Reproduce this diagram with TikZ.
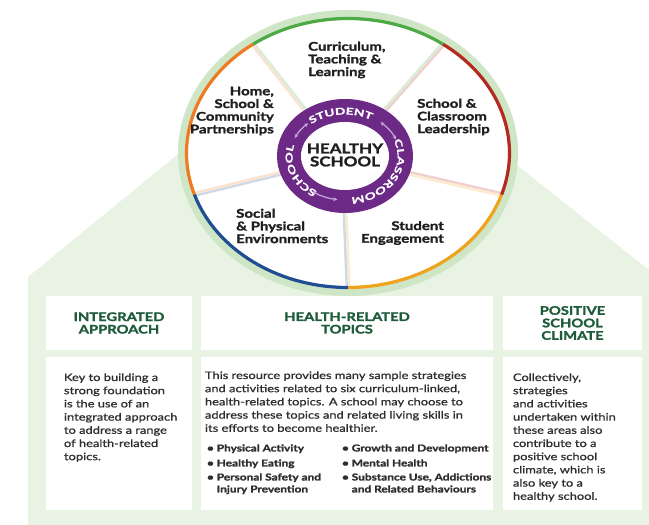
\documentclass[tikz,border=0pt]{standalone}
\usepackage{fontspec}
\setmainfont{Lato}[FakeStretch=1.25]
\newfontfamily\bodyfont{Lato}[FakeStretch=1.25, FakeBold=0.9]
\newfontfamily\heavyfont{Lato}[FakeStretch=1.25, FakeBold=1.6]
\newfontfamily\ringfont{Lato}[FakeStretch=1.45, FakeBold=1.2]
\usetikzlibrary{arrows.meta, positioning, calc, decorations.text}

\definecolor{bggreen}{HTML}{E8F3E3}
\definecolor{ringgreen}{HTML}{CFE6C6}
\definecolor{segGreen}{HTML}{4DAA45}
\definecolor{segRed}{HTML}{B32A1F}
\definecolor{segGold}{HTML}{F0A31E}
\definecolor{segBlue}{HTML}{1F4E93}
\definecolor{segOrange}{HTML}{EE7B22}
\definecolor{hsPurple}{HTML}{6C2A86}
\definecolor{arrowLilac}{HTML}{C8A6DC}
\definecolor{headGreen}{HTML}{1E5C3A}
\definecolor{bodyGray}{HTML}{2E2E2E}

\begin{document}
\begin{tikzpicture}[
  x=1pt, y=1pt,
  header/.style = {fill=white, minimum height=54pt, align=center, text=headGreen,
    font=\heavyfont\bfseries\fontsize{11.8}{12.5}\selectfont},
  panel/.style = {fill=white, minimum height=153pt},
  bodytext/.style = {anchor=north west, align=left, inner sep=0pt, text=bodyGray,
    font=\bodyfont\fontsize{10.3}{13.2}\selectfont},
  bullets/.style = {anchor=north west, align=left, inner sep=0pt, text=bodyGray,
    font=\heavyfont\bfseries\fontsize{9.5}{12}\selectfont},
  wedgelabel/.style = {inner sep=0pt, text=black!88, font=\heavyfont\bfseries\fontsize{12}{12.7}\selectfont},
  spoke/.style = {line width=2.4pt},
  ringword/.style = {decorate, decoration={text along path, text align=center}},
  loop arrow/.style = {arrowLilac, line width=1.2pt, {Stealth[length=4pt,width=4pt]}-{Stealth[length=4pt,width=4pt]}}
]
  \useasboundingbox (0,0) rectangle (649,525);

  % Background house shape
  \fill[bggreen] (28,0) -- (28,248) -- (338,502) -- (649,255) -- (649,0) -- cycle;

  % Outer wheel
  \coordinate (hub) at (348,372);
  \coordinate (core) at (345,369);
  \fill[ringgreen] (hub) ellipse [x radius=170, y radius=143];
  \fill[white] (hub) ellipse [x radius=160, y radius=133];

  % Pale spokes between the wedges
  \foreach \a/\cw/\ccw in {-90/segBlue/segGold, -18/segGold/segRed, 54/segRed/segGreen,
                           126/segGreen/segOrange, 198/segOrange/segBlue} {
    \coordinate (sIn) at ($(core)+(\a:66 and 55)$);
    \coordinate (sOut) at ($(hub)+(\a:160 and 133)$);
    \draw[spoke, \ccw!22] ($(sIn)!1.3pt!90:(sOut)$) -- ($(sOut)!1.3pt!-90:(sIn)$);
    \draw[spoke, \cw!22] ($(sIn)!1.3pt!-90:(sOut)$) -- ($(sOut)!1.3pt!90:(sIn)$);
  }

  % Coloured rim
  \foreach \a/\c in {-90/segGold, -18/segRed, 54/segGreen, 126/segOrange, 198/segBlue}
    \draw[\c, line width=3.2pt] ($(hub)+(\a:161.5 and 134.5)$)
      arc[start angle=\a, delta angle=72, x radius=161.5, y radius=134.5];

  % Purple ring
  \fill[hsPurple] (core) ellipse [x radius=68, y radius=57];
  \fill[white] (core) ellipse [x radius=44, y radius=34];
  \node[align=center, inner sep=0pt, text=black!88, font=\heavyfont\bfseries\fontsize{13.6}{13}\selectfont]
    (healthy) at ($(core)+(0,1)$) {HEALTHY\\SCHOOL};

  \path[ringword, decoration={text={|\color{white}\ringfont\bfseries\fontsize{9.4}{9}\selectfont|STUDENT}}]
    ($(core)+(132:52.5 and 41.5)$) arc[start angle=132, end angle=58, x radius=52.5, y radius=41.5];
  \path[ringword, decoration={text={|\color{white}\ringfont\bfseries\fontsize{9.4}{9}\selectfont|CLASSROOM}}]
    ($(core)+(18:52.5 and 41.5)$) arc[start angle=18, end angle=-80, x radius=52.5, y radius=41.5];
  \path[ringword, decoration={text={|\color{white}\ringfont\bfseries\fontsize{9.4}{9}\selectfont|SCHOOL}}]
    ($(core)+(242:52.5 and 41.5)$) arc[start angle=242, end angle=160, x radius=52.5, y radius=41.5];

  \draw[loop arrow] ($(core)+(156:55 and 44)$) arc[start angle=156, end angle=132, x radius=55, y radius=44];
  \draw[loop arrow] ($(core)+(50:55 and 44)$) arc[start angle=50, end angle=22, x radius=55, y radius=44];
  \draw[loop arrow] ($(core)+(-126:55 and 44)$) arc[start angle=-126, end angle=-98, x radius=55, y radius=44];

  % Wedge labels
  \node[wedgelabel, align=left, anchor=west] (curriculum) at (308,465) {Curriculum,\\Teaching \&\\Learning};
  \node[wedgelabel, align=right, anchor=east] (partners) at (274,414) {Home,\\School \&\\Community\\Partnerships};
  \node[wedgelabel, align=left, anchor=west] (leadership) at (417,408) {School \&\\Classroom\\Leadership};
  \node[wedgelabel, align=left, anchor=west] (environs) at (236,299) {Social\\\& Physical\\Environments};
  \node[wedgelabel, align=right, anchor=east] (engagement) at (444,292) {Student\\Engagement};

  % Headers
  \node[header, minimum width=146pt] (intHead) at (119,202) {INTEGRATED\\APPROACH};
  \node[header, minimum width=292pt] (topicHead) at (347,202) {HEALTH-RELATED\\TOPICS};
  \node[header, minimum width=139pt] (climateHead) at (572.5,202) {POSITIVE\\SCHOOL\\CLIMATE};

  % Panels
  \node[panel, minimum width=146pt, below=7pt of intHead] (intBody) {};
  \node[panel, minimum width=292pt, below=7pt of topicHead] (topicBody) {};
  \node[panel, minimum width=139pt, below=7pt of climateHead] (climateBody) {};

  \node[bodytext] (intText) at ($(intBody.north west)+(18,-16)$)
    {Key to building a\\strong foundation\\is the use of an\\integrated approach\\to address a range\\of health-related\\topics.};
  \node[bodytext] (topicText) at ($(topicBody.north west)+(4,-14)$)
    {This resource provides many sample strategies\\and activities related to six curriculum-linked,\\health-related topics. A school may choose to\\address these topics and related living skills in\\its efforts to become healthier.};
  \node[bullets] (topicsLeft) at ($(topicBody.north west)+(6,-87)$)
    {• Physical Activity\\[3pt]• Healthy Eating\\[2pt]• Personal Safety and\\\hphantom{• }Injury Prevention};
  \node[bullets] (topicsRight) at ($(topicBody.north west)+(141,-87)$)
    {• Growth and Development\\[3pt]• Mental Health\\[2pt]• Substance Use, Addictions\\\hphantom{• }and Related Behaviours};
  \node[bodytext] (climateText) at ($(climateBody.north west)+(10,-16)$)
    {Collectively,\\strategies\\and activities\\undertaken within\\these areas also\\contribute to a\\positive school\\climate, which is\\also key to a\\healthy school.};

\end{tikzpicture}
\end{document}
